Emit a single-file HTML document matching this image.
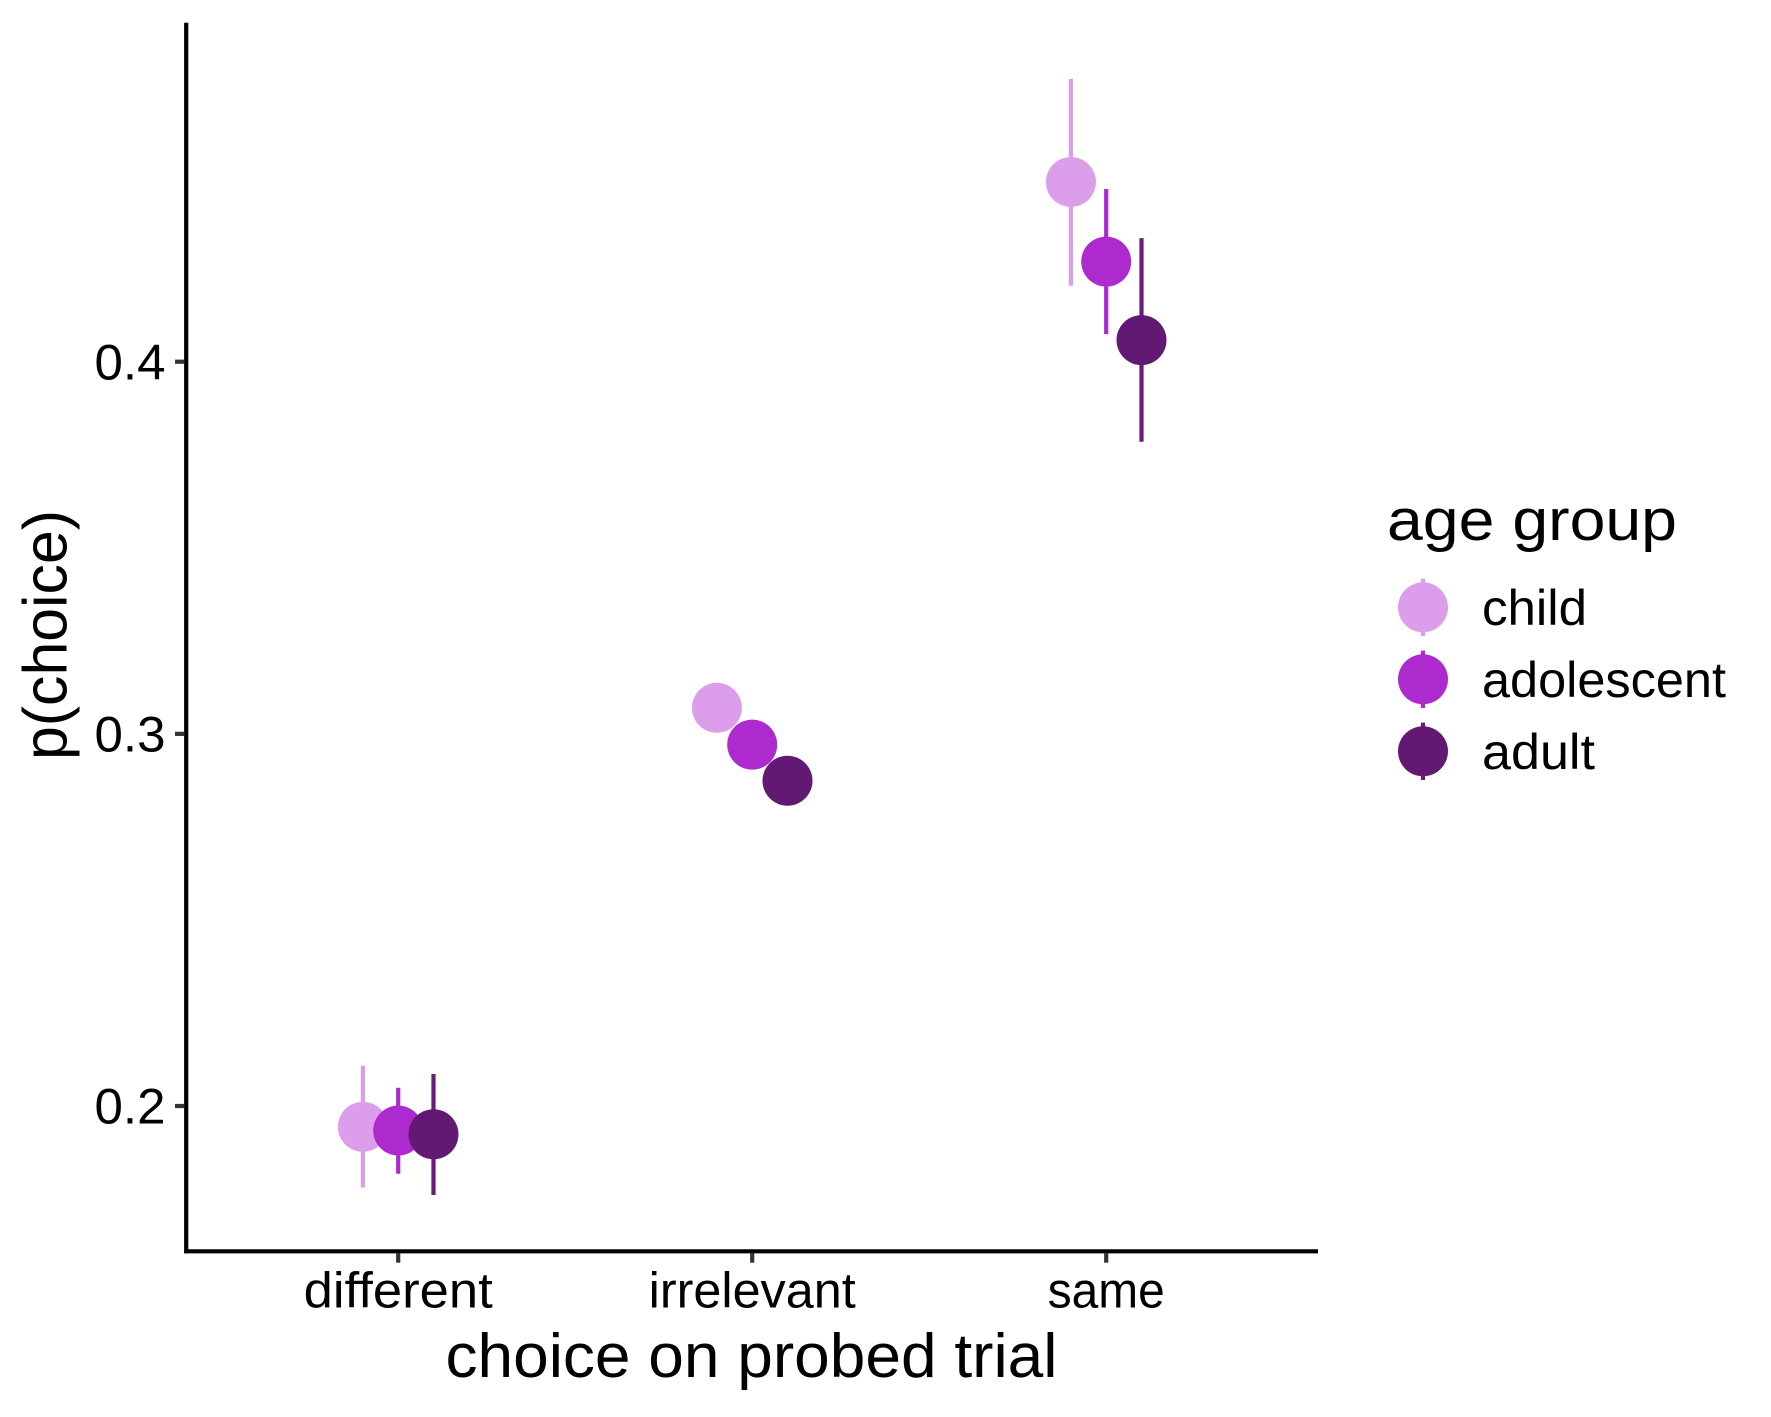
<!DOCTYPE html>
<html lang="en">
<head>
<meta charset="utf-8">
<title>p(choice) by age group</title>
<style>
  html, body { margin: 0; padding: 0; background: #ffffff; }
  body { width: 1771px; height: 1417px; overflow: hidden; }
  svg { display: block; }
  text { font-family: "Liberation Sans", sans-serif; fill: #000000; }
</style>
</head>
<body>
<svg id="chart" xmlns="http://www.w3.org/2000/svg" width="1771" height="1417" viewBox="0 0 1771 1417">
  <rect x="0" y="0" width="1771" height="1417" fill="#ffffff"/>
  <g id="marks"></g>
  <g id="axes"></g>
  <text x="445.5" y="1377" font-size="62" textLength="612" lengthAdjust="spacingAndGlyphs">choice on probed trial</text>
  <text transform="translate(66.7 760) rotate(-90)" x="0" y="0" font-size="62" textLength="250" lengthAdjust="spacingAndGlyphs">p(choice)</text>
  <g id="legend">
    <text x="1387" y="540" font-size="58" textLength="290" lengthAdjust="spacingAndGlyphs">age group</text>
  </g>
</svg>
<script>
const categories = ['different', 'irrelevant', 'same'];
const groups = ['child', 'adolescent', 'adult'];
const yTickValues = [0.2, 0.3, 0.4];
const yTickLabels = ['0.2', '0.3', '0.4'];

const childMean = [0.1944, 0.3070, 0.4483];
const childLow = [0.1781, 0.3020, 0.4204];
const childHigh = [0.2108, 0.3120, 0.4760];

const adolescentMean = [0.1934, 0.2971, 0.4269];
const adolescentLow = [0.1818, 0.2921, 0.4074];
const adolescentHigh = [0.2049, 0.3021, 0.4464];

const adultMean = [0.1924, 0.2874, 0.4058];
const adultLow = [0.1761, 0.2824, 0.3785];
const adultHigh = [0.2086, 0.2924, 0.4332];

const groupColors = ['#dc9eeb', '#ad2bce', '#621973'];
const groupLineColors = ['#dc9eeb', '#ad2bce', '#6a1b7c'];
const seriesMean = [childMean, adolescentMean, adultMean];
const seriesLow = [childLow, adolescentLow, adultLow];
const seriesHigh = [childHigh, adolescentHigh, adultHigh];

/* Layout */
const svgNS = 'http://www.w3.org/2000/svg';
const panelLeft = 186.2;
const panelRight = 1318;
const panelTop = 22.7;
const panelBottom = 1251.3;
const categoryStep = 354;
const firstCategoryX = 398.2;
const dodgeStep = 35.3;
const pointRadius = 25;
const xLabelLengths = { different: 189, irrelevant: 207, same: 117 };
const legendLabelLengths = { child: 105, adolescent: 244, adult: 113 };

function xScale(categoryIndex, groupIndex) {
  return firstCategoryX + categoryIndex * categoryStep + groupIndex * dodgeStep;
}
function yScale(value) {
  return 1106 - (value - 0.2) * 3721.5;
}
function make(tag, attrs, parent) {
  const el = document.createElementNS(svgNS, tag);
  for (const key of Object.keys(attrs)) {
    el.setAttribute(key, attrs[key]);
  }
  parent.appendChild(el);
  return el;
}

const marks = document.getElementById('marks');
const axes = document.getElementById('axes');
const legend = document.getElementById('legend');

/* Error bars and points */
groups.forEach(function (group, g) {
  categories.forEach(function (category, c) {
    const x = xScale(c, g - 1);
    const bar = make('line', {
      x1: x, x2: x,
      y1: yScale(seriesHigh[g][c]), y2: yScale(seriesLow[g][c]),
      stroke: groupLineColors[g], 'stroke-width': 4.2
    }, marks);
    
    
    const point = make('circle', {
      cx: x, cy: yScale(seriesMean[g][c]), r: pointRadius, fill: groupColors[g]
    }, marks);
    
    
  });
});

/* Axis lines */
const yAxisLine = make('line', {
  x1: panelLeft, x2: panelLeft, y1: panelTop, y2: panelBottom + 2,
  stroke: '#000000', 'stroke-width': 4.2
}, axes);



const xAxisLine = make('line', {
  x1: panelLeft - 2, x2: panelRight, y1: panelBottom, y2: panelBottom,
  stroke: '#000000', 'stroke-width': 4.2
}, axes);



/* Y ticks */
yTickValues.forEach(function (value, i) {
  const y = yScale(value);
  const tick = make('line', {
    x1: 175, x2: panelLeft - 2, y1: y, y2: y, stroke: '#333333', 'stroke-width': 4.2
  }, axes);
  
  
  const label = make('text', {
    x: 165.5, y: y + 17.7, 'text-anchor': 'end', 'font-size': 50,
    textLength: 71, lengthAdjust: 'spacingAndGlyphs'
  }, axes);
  label.textContent = yTickLabels[i];
  
  
});

/* X ticks */
categories.forEach(function (category, c) {
  const x = xScale(c, 0);
  const tick = make('line', {
    x1: x, x2: x, y1: panelBottom + 2, y2: 1262.7, stroke: '#333333', 'stroke-width': 4.2
  }, axes);
  
  
  const attrs = { x: x, y: 1307.5, 'text-anchor': 'middle', 'font-size': 50 };
  if (xLabelLengths[category]) {
    attrs.textLength = xLabelLengths[category];
    attrs.lengthAdjust = 'spacingAndGlyphs';
  }
  const label = make('text', attrs, axes);
  label.textContent = category;
  
  
});

/* Legend */
groups.forEach(function (group, g) {
  const cy = 607.3 + g * 72;
  const keyLine = make('line', {
    x1: 1423, x2: 1423, y1: cy - 28.7, y2: cy + 28.7,
    stroke: groupLineColors[g], 'stroke-width': 4.2
  }, legend);
  
  
  const keyPoint = make('circle', { cx: 1423, cy: cy, r: pointRadius, fill: groupColors[g] }, legend);
  
  
  const attrs = { x: 1482, y: cy + 17.7, 'font-size': 50 };
  if (legendLabelLengths[group]) {
    attrs.textLength = legendLabelLengths[group];
    attrs.lengthAdjust = 'spacingAndGlyphs';
  }
  const label = make('text', attrs, legend);
  label.textContent = group;
  
  
});
</script>
</body>
</html>
